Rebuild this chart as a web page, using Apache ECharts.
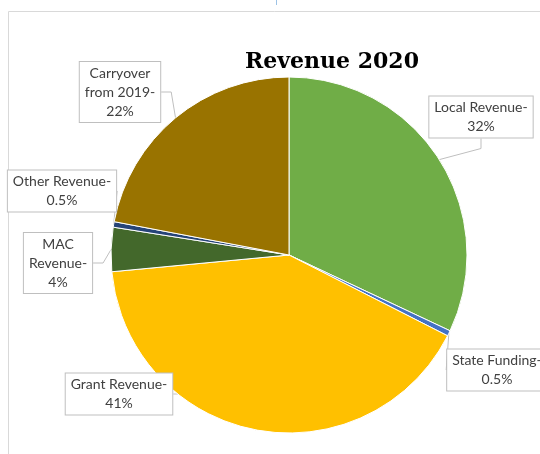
<!DOCTYPE html>
<html>
<head>
<meta charset="utf-8">
<script src="https://cdn.jsdelivr.net/npm/echarts@6/dist/echarts.min.js"></script>
<style>
  html, body { margin: 0; padding: 0; background: #fff; }
  #main { width: 540px; height: 454px; }
</style>
</head>
<body>
<div id="main"></div>
<script>
// slices, clockwise from 12 o'clock
var categories = ['Local Revenue', 'State Funding', 'Grant Revenue', 'MAC\nRevenue', 'Other Revenue', 'Carryover\nfrom 2019'];
var values = [32, 0.5, 41, 4, 0.5, 22];
var percentLabels = ['32%', '0.5%', '41%', '4%', '0.5%', '22%'];
var colors = ['#70ad47', '#4472c4', '#ffc000', '#43682b', '#264478', '#997300'];

// label box centres (px)
var labelPos = [[481, 117], [497, 370], [119, 394], [58, 263], [62, 191], [120, 92]];

var myChart = echarts.init(document.getElementById('main'));

var pieData = [];
for (var i = 0; i < categories.length; i++) {
    pieData.push({
        name: categories[i],
        value: values[i],
        itemStyle: { color: colors[i] }
    });
}

myChart.setOption({
    animation: false,
    title: {
        text: 'Revenue 2020',
        left: 327,
        top: 46,
        textAlign: 'center',
        textStyle: {
            fontFamily: 'DejaVu Serif',
            fontWeight: 'bold',
            fontSize: 22,
            color: '#000'
        }
    },
    graphic: [
        { type: 'polyline', shape: { points: [[8.5, 454], [8.5, 11.5], [540, 11.5]] },
          style: { stroke: '#d9d9d9', lineWidth: 1, fill: null } },
        { type: 'line', shape: { x1: 276.5, y1: 0, x2: 276.5, y2: 5 },
          style: { stroke: '#9dc3e6', lineWidth: 1 } }
    ],
    series: [{
        type: 'pie',
        center: [289, 255],
        radius: 178,
        startAngle: 90,
        clockwise: true,
        avoidLabelOverlap: false,
        itemStyle: { borderColor: '#fff', borderWidth: 1 },
        label: {
            show: true,
            formatter: function (p) {
                return p.name + '-\n' + percentLabels[p.dataIndex];
            },
            fontFamily: 'Lato',
            fontSize: 14,
            lineHeight: 19,
            color: '#404040',
            align: 'center',
            backgroundColor: '#fff',
            borderColor: '#bfbfbf',
            borderWidth: 1,
            padding: [2, 5, 1, 5]
        },
        labelLine: {
            show: true,
            length: 10,
            length2: 10,
            lineStyle: { color: '#bfbfbf', width: 1 }
        },
        labelLayout: function (params) {
            var pos = labelPos[params.dataIndex];
            return {
                x: pos[0],
                y: pos[1],
                align: 'center',
                verticalAlign: 'middle'
            };
        },
        emphasis: { disabled: true },
        data: pieData
    }]
});
</script>
</body>
</html>
